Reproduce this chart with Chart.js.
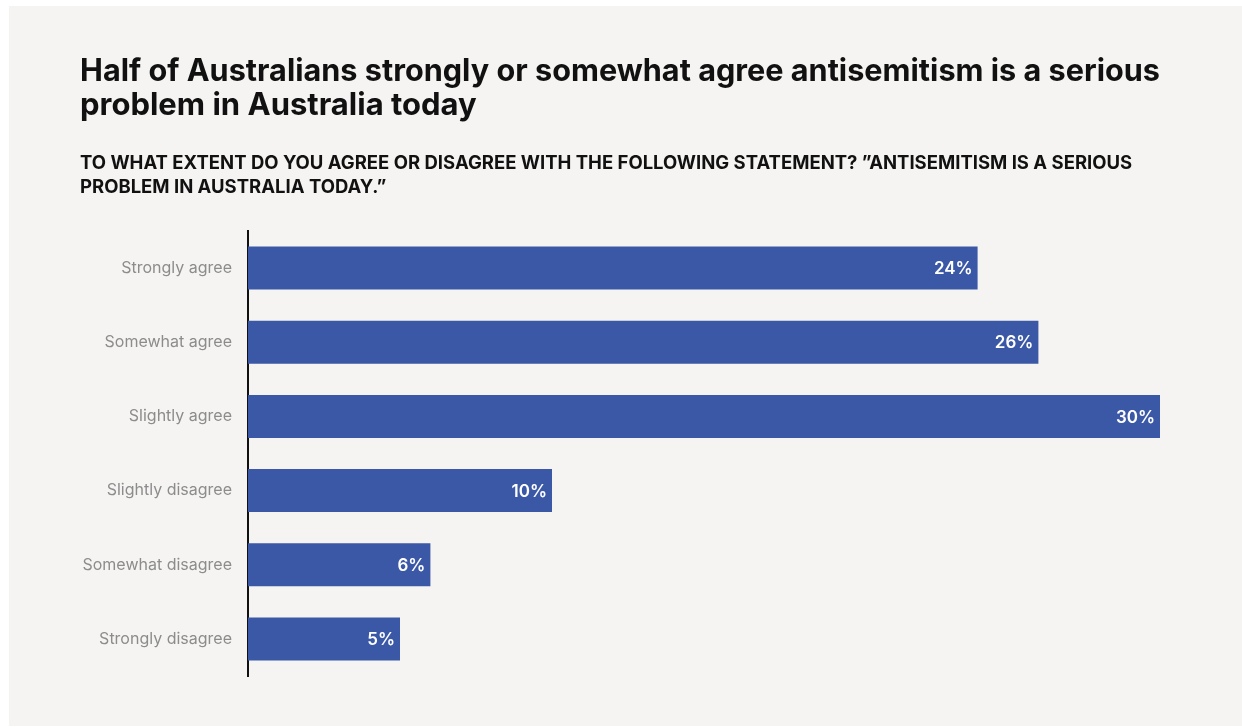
<!DOCTYPE html>
<html>
<head>
<meta charset="utf-8">
<script src="https://cdn.jsdelivr.net/npm/chart.js@4/dist/chart.umd.min.js"></script>
<style>
  html, body { margin: 0; padding: 0; background: #ffffff; }
  #panel {
    position: absolute;
    left: 9px;
    top: 6px;
    width: 1233px;
    height: 720px;
    background: #f5f4f2;
  }
</style>
</head>
<body>
<div id="panel"><canvas id="agreeChart" width="1233" height="720"></canvas></div>
<script>
// survey responses, share of respondents (%)
const categories = [
    'Strongly agree',
    'Somewhat agree',
    'Slightly agree',
    'Slightly disagree',
    'Somewhat disagree',
    'Strongly disagree'
];
const shares = [24, 26, 30, 10, 6, 5];
const valueLabels = ['24%', '26%', '30%', '10%', '6%', '5%'];

const titleLines = [
    'Half of Australians strongly or somewhat agree antisemitism is a serious',
    'problem in Australia today'
];
const subtitleLines = [
    'TO WHAT EXTENT DO YOU AGREE OR DISAGREE WITH THE FOLLOWING STATEMENT? \u201DANTISEMITISM IS A SERIOUS',
    'PROBLEM IN AUSTRALIA TODAY.\u201D'
];

const FONT = 'Inter, Lato, sans-serif';

// white percentage text inside the end of each bar
const barValueLabels = {
    id: 'barValueLabels',
    afterDatasetsDraw(chart) {
        const ctx = chart.ctx;
        const meta = chart.getDatasetMeta(0);
        ctx.save();
        ctx.fillStyle = '#ffffff';
        ctx.font = '600 17px ' + FONT;
        ctx.textAlign = 'right';
        ctx.textBaseline = 'middle';
        meta.data.forEach((bar, i) => {
            ctx.fillText(valueLabels[i], bar.x - 5, bar.y + 1);
        });
        ctx.restore();
    }
};

function createAgreeChart() {
    const ctx = document.getElementById('agreeChart');

    new Chart(ctx, {
        type: 'bar',
        data: {
            labels: categories,
            datasets: [{
                data: shares,
                backgroundColor: '#3b58a7',
                barPercentage: 0.58,
                categoryPercentage: 1.0
            }]
        },
        options: {
            indexAxis: 'y',
            responsive: false,
            animation: false,
            layout: {
                padding: { top: 49, left: 71, right: 82, bottom: 50 }
            },
            scales: {
                x: {
                    display: false,
                    min: 0,
                    max: 30
                },
                y: {
                    grid: { display: false, drawTicks: false },
                    border: { display: true, color: '#111111', width: 2 },
                    ticks: {
                        color: '#8c8c8c',
                        padding: 16,
                        font: { family: FONT, size: 16 }
                    },
                    afterFit(scale) {
                        scale.width = 168;
                    }
                }
            },
            plugins: {
                legend: { display: false },
                tooltip: { enabled: false },
                title: {
                    display: true,
                    text: titleLines,
                    align: 'start',
                    color: '#111111',
                    font: { family: FONT, size: 31, weight: 'bold', lineHeight: 34 / 31 },
                    padding: { top: 0, bottom: 28 }
                },
                subtitle: {
                    display: true,
                    text: subtitleLines,
                    align: 'start',
                    color: '#111111',
                    font: { family: FONT, size: 18.5, weight: 'bold', lineHeight: 24 / 18.5 },
                    padding: { top: 0, bottom: 32 }
                }
            }
        },
        plugins: [barValueLabels]
    });
}

document.addEventListener('DOMContentLoaded', () => {
    createAgreeChart();
});
</script>
</body>
</html>
